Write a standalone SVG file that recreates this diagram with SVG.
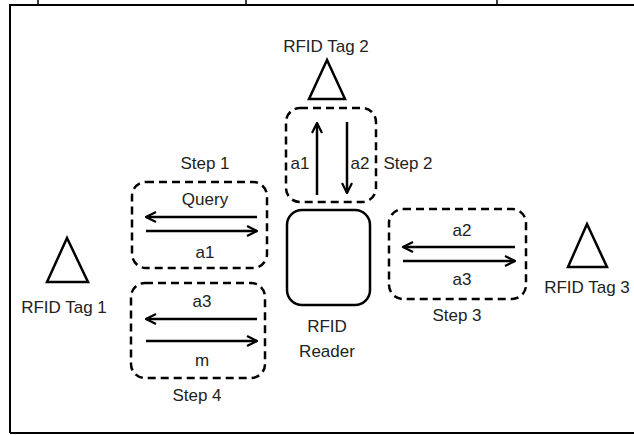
<svg xmlns="http://www.w3.org/2000/svg" width="634" height="435" viewBox="0 0 634 435">
  <style>
    text { font-family: "Liberation Sans", Arial, sans-serif; font-size: 17px; fill: #222; text-anchor: middle; }
    .frame { fill: none; stroke: #000; stroke-width: 2; }
    .step { fill: none; stroke: #000; stroke-width: 2.5; stroke-dasharray: 8 5; }
    .tag { fill: #fff; stroke: #000; stroke-width: 2.5; stroke-linejoin: miter; }
    .reader { fill: #fff; stroke: #000; stroke-width: 2.5; }
    .msg { fill: none; stroke: #000; stroke-width: 2.5; marker-end: url(#head); }
  </style>
  <defs>
    <marker id="head" viewBox="0 0 12 12" refX="11" refY="6" markerWidth="12" markerHeight="12" markerUnits="userSpaceOnUse" orient="auto">
      <path d="M1,1 L11,6 L1,11" fill="none" stroke="#000" stroke-width="2.2" stroke-linejoin="miter"/>
    </marker>
  </defs>
  <rect width="634" height="435" fill="#fff"/>

  <!-- outer frame -->
  <g id="frame">
    <path class="frame" d="M10,433 L10,5 L634,5"/>
    <path class="frame" d="M10,433 L634,433"/>
    <path d="M38,0 V5 M246,0 V5 M497,0 V5" stroke="#000" stroke-width="1.5"/>
  </g>

  <!-- tags -->
  <g id="tag1">
    <polygon class="tag" points="67,238 47,282 88,282"/>
    <text x="64" y="313">RFID Tag 1</text>
  </g>
  <g id="tag2">
    <text x="326" y="52">RFID Tag 2</text>
    <polygon class="tag" points="327,60 309,99 345,99"/>
  </g>
  <g id="tag3">
    <polygon class="tag" points="587,224 568,267 607,267"/>
    <text x="587" y="293">RFID Tag 3</text>
  </g>

  <!-- reader -->
  <g id="reader">
    <rect class="reader" x="287" y="210" width="83" height="95" rx="15"/>
    <text x="327" y="332">RFID</text>
    <text x="327" y="357">Reader</text>
  </g>

  <!-- step frames -->
  <g id="step1">
    <rect class="step" x="132" y="182" width="135" height="86" rx="14"/>
    <text x="205" y="169">Step 1</text>
    <text x="205" y="205">Query</text>
    <text x="205" y="258">a1</text>
  </g>
  <g id="step2">
    <rect class="step" x="286" y="108" width="90" height="94" rx="14"/>
    <text x="300" y="169">a1</text>
    <text x="360" y="169">a2</text>
    <text x="408" y="169">Step 2</text>
  </g>
  <g id="step3">
    <rect class="step" x="389" y="209" width="137" height="90" rx="14"/>
    <text x="462" y="236">a2</text>
    <text x="462" y="285">a3</text>
    <text x="457" y="321">Step 3</text>
  </g>
  <g id="step4">
    <rect class="step" x="131" y="283" width="134" height="95" rx="14"/>
    <text x="202" y="307">a3</text>
    <text x="202" y="366">m</text>
    <text x="197" y="401">Step 4</text>
  </g>

  <!-- message arrows -->
  <g id="connectors">
    <line class="msg" x1="257" y1="217" x2="146" y2="217"/>
    <line class="msg" x1="146" y1="231" x2="257" y2="231"/>
    <line class="msg" x1="317" y1="195" x2="317" y2="123"/>
    <line class="msg" x1="347" y1="122" x2="347" y2="193"/>
    <line class="msg" x1="515" y1="247" x2="403" y2="247"/>
    <line class="msg" x1="403" y1="261" x2="515" y2="261"/>
    <line class="msg" x1="257" y1="319" x2="146" y2="319"/>
    <line class="msg" x1="146" y1="341" x2="257" y2="341"/>
  </g>
</svg>
